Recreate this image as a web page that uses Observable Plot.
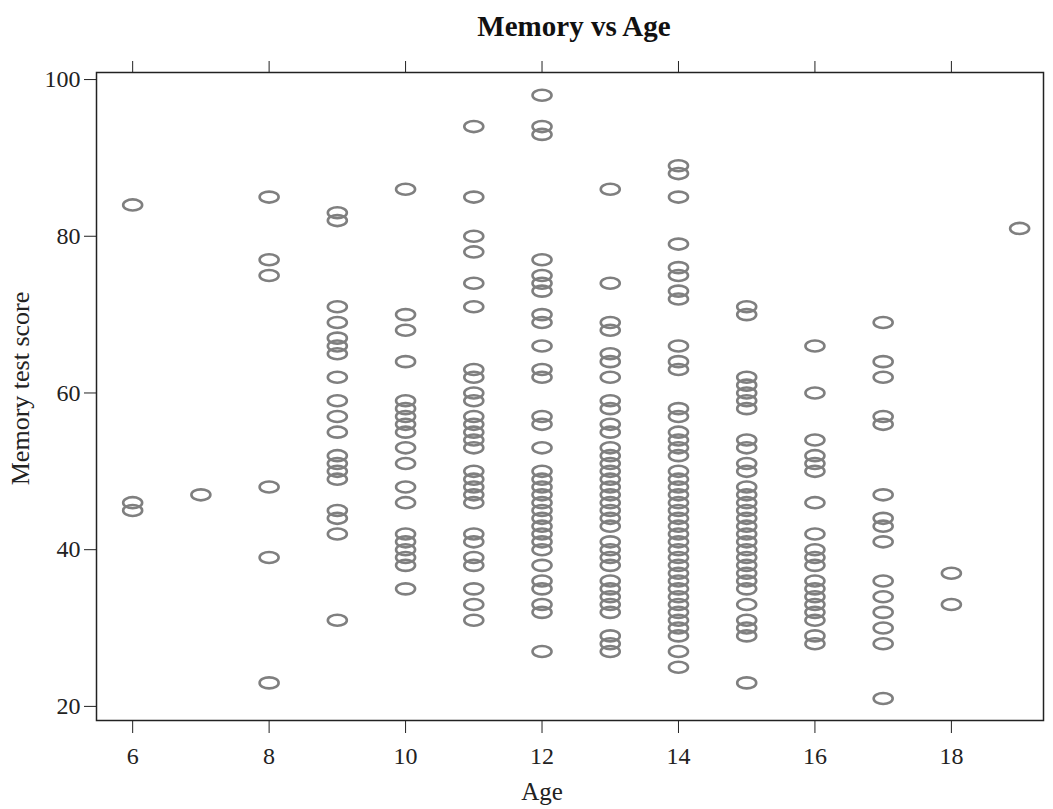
<!DOCTYPE html>
<html>
<head>
<meta charset="utf-8">
<script src="https://cdn.jsdelivr.net/npm/d3@7"></script>
<script src="https://cdn.jsdelivr.net/npm/@observablehq/plot@0.6"></script>
<style>
  html, body { margin: 0; padding: 0; background: #fff; }
  #title { height: 50px; width: 1053px; position: relative; font-family: "Liberation Serif", "Times New Roman", serif; }
  #title span { position: absolute; left: 574px; top: 10px; transform: translateX(-50%); font-weight: bold; font-size: 29px; color: #111; white-space: nowrap; }
  #chart svg g[aria-label="x-axis tick label"], #chart svg g[aria-label="y-axis tick label"] { font-size: 24px; }
</style>
</head>
<body>
<div id="title"><span>Memory vs Age</span></div>
<div id="chart"></div>
<script>
const ages   = [6, 7, 8, 9, 10, 11, 12, 13, 14, 15, 16, 17, 18, 19];
const scores = [
  [84, 46, 45],
  [47],
  [85, 77, 75, 48, 39, 23],
  [83, 82, 71, 69, 67, 66, 65, 62, 59, 57, 55, 52, 51, 50, 49, 45, 44, 42, 31],
  [86, 70, 68, 64, 59, 58, 57, 56, 55, 53, 51, 48, 46, 42, 41, 40, 39, 38, 35],
  [94, 85, 80, 78, 74, 71, 63, 62, 60, 59, 57, 56, 55, 54, 53, 50, 49, 48, 47, 46, 42, 41, 39, 38, 35, 33, 31],
  [98, 94, 93, 77, 75, 74, 73, 70, 69, 66, 63, 62, 57, 56, 53, 50, 49, 48, 47, 46, 45, 44, 43, 42, 41, 40, 38, 36, 35, 33, 32, 27],
  [86, 74, 69, 68, 65, 64, 62, 59, 58, 56, 55, 53, 52, 51, 50, 49, 48, 47, 46, 45, 44, 43, 41, 40, 39, 38, 36, 35, 34, 33, 32, 29, 28, 27],
  [89, 88, 85, 79, 76, 75, 73, 72, 66, 64, 63, 58, 57, 55, 54, 53, 52, 50, 49, 48, 47, 46, 45, 44, 43, 42, 41, 40, 39, 38, 37, 36, 35, 34, 33, 32, 31, 30, 29, 27, 25],
  [71, 70, 62, 61, 60, 59, 58, 54, 53, 51, 50, 48, 47, 46, 45, 44, 43, 42, 41, 40, 39, 38, 37, 36, 35, 33, 31, 30, 29, 23],
  [66, 60, 54, 52, 51, 50, 46, 42, 40, 39, 38, 36, 35, 34, 33, 32, 31, 29, 28],
  [69, 64, 62, 57, 56, 47, 44, 43, 41, 36, 34, 32, 30, 28, 21],
  [37, 33],
  [81]
];
const xTicks = [6, 8, 10, 12, 14, 16, 18];
const yTicks = [20, 40, 60, 80, 100];
const xLabel = "Age";
const yLabel = "Memory test score";

const data = [];
ages.forEach((a, i) => scores[i].forEach(s => data.push({age: a, score: s})));

// open ellipse symbol
const ellipse = {
  draw(ctx, size) {
    const r = Math.sqrt(size / Math.PI);
    const rx = r, ry = r * 0.58, k = 0.5523;
    ctx.moveTo(rx, 0);
    ctx.bezierCurveTo(rx, k * ry, k * rx, ry, 0, ry);
    ctx.bezierCurveTo(-k * rx, ry, -rx, k * ry, -rx, 0);
    ctx.bezierCurveTo(-rx, -k * ry, -k * rx, -ry, 0, -ry);
    ctx.bezierCurveTo(k * rx, -ry, rx, -k * ry, rx, 0);
    ctx.closePath();
  }
};

const font = "Liberation Serif, Times New Roman, serif";
const plot = Plot.plot({
  width: 1053,
  height: 759,
  marginTop: 22,
  marginBottom: 89,
  marginLeft: 96,
  marginRight: 10,
  style: { fontFamily: font, fontSize: "24px", color: "#222", background: "#fff" },
  x: { domain: [5.47, 19.35], ticks: xTicks, label: null },
  y: { domain: [18.2, 100.9], ticks: yTicks, label: null },
  marks: [
    Plot.axisX({ anchor: "bottom", ticks: xTicks, tickSize: 13, tickPadding: 13, tickFormat: d => d, fontSize: 24, label: null }),
    Plot.axisX({ anchor: "top", ticks: xTicks, tickSize: 12, tickFormat: () => "", label: null }),
    Plot.axisY({ anchor: "left", ticks: yTicks, tickSize: 12, tickPadding: 4, tickFormat: d => d, fontSize: 24, label: null }),
    Plot.frame({ stroke: "#222", strokeWidth: 1.5 }),
    Plot.dot(data, { x: "age", y: "score", r: 9.5, symbol: ellipse, stroke: "#7f7f7f", strokeWidth: 2.6, fill: "none" }),
    Plot.text([xLabel], { frameAnchor: "bottom", dx: -28, dy: 79, fontSize: 25, fill: "#222" }),
    Plot.text([yLabel], { frameAnchor: "left", textAnchor: "middle", dx: -76, dy: -8, rotate: -90, fontSize: 26, fill: "#222" })
  ]
});
document.getElementById("chart").appendChild(plot);
</script>
</body>
</html>
